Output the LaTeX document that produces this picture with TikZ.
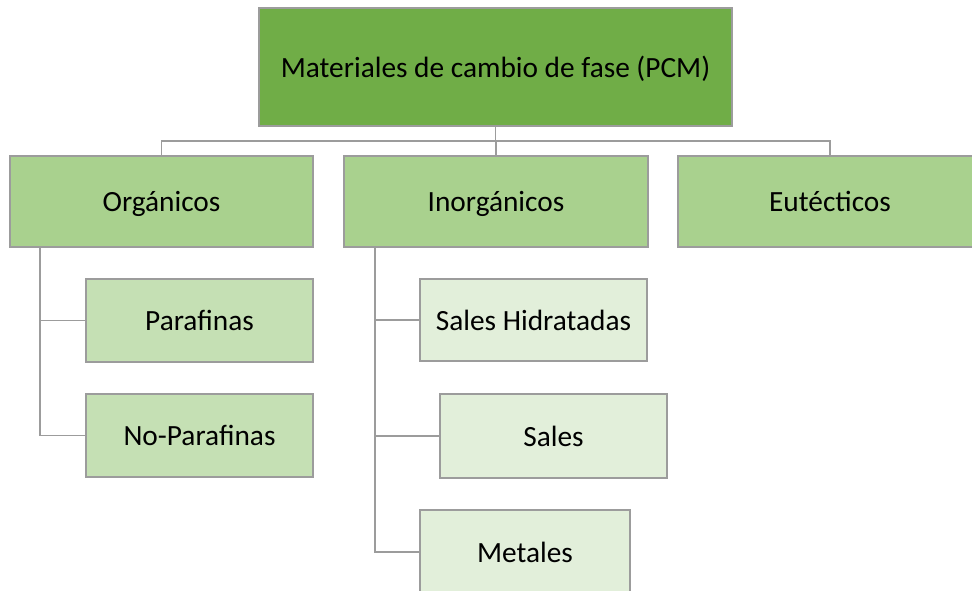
\documentclass[tikz,border=0pt]{standalone}
\usepackage{fontspec}
\setmainfont{Carlito}
\definecolor{gborder}{HTML}{9C9C9C}
\definecolor{lvA}{HTML}{70AD47}
\definecolor{lvB}{HTML}{A9D18E}
\definecolor{lvC}{HTML}{C5E0B4}
\definecolor{lvD}{HTML}{E2EFDA}
\begin{document}
\begin{tikzpicture}[x=0.75pt,y=-0.75pt,
  box/.style={draw=gborder,line width=1.35pt,inner sep=0pt,font=\fontsize{22}{26}\selectfont,text=black,text height=15pt,text depth=0pt},
  conn/.style={draw=gborder,line width=1.35pt}]
\useasboundingbox (0,0) rectangle (972,590);
\clip (0,0) rectangle (972,590);
\node[box,fill=lvA,minimum width=0.75*473pt,minimum height=0.75*118pt] (top) at (495.5,67) {Materiales de cambio de fase (PCM)};
\node[box,fill=lvB,minimum width=0.75*303pt,minimum height=0.75*91pt] (org) at (161.5,201.5) {Orgánicos};
\node[box,fill=lvB,minimum width=0.75*304pt,minimum height=0.75*91pt] (inorg) at (496,201.5) {Inorgánicos};
\node[box,fill=lvB,minimum width=0.75*304pt,minimum height=0.75*91pt] (eut) at (830,201.5) {Eutécticos};
\node[box,fill=lvC,minimum width=0.75*227pt,minimum height=0.75*83pt] (paraf) at (199.5,320.5) {Parafinas};
\node[box,fill=lvC,minimum width=0.75*227pt,minimum height=0.75*83pt] (noparaf) at (199.5,435.5) {No-Parafinas};
\node[box,fill=lvD,minimum width=0.75*227pt,minimum height=0.75*82pt] (salesh) at (533.5,320) {Sales Hidratadas};
\node[box,fill=lvD,minimum width=0.75*227pt,minimum height=0.75*84pt] (sales) at (553.5,436) {Sales};
\node[box,fill=lvD,minimum width=0.75*210pt,minimum height=0.75*84pt] (metales) at (525,552) {Metales};
\coordinate (hy) at (0,141);
\coordinate (ol) at (40,247);
\coordinate (il) at (375,247);
\draw[conn] (top.south) -- (top.south |- hy) -| (org.north);
\draw[conn] (top.south |- hy) -| (inorg.north);
\draw[conn] (top.south |- hy) -| (eut.north);
\draw[conn] (ol) |- (paraf.west);
\draw[conn] (ol) |- (noparaf.west);
\draw[conn] (il) |- (salesh.west);
\draw[conn] (il) |- (sales.west);
\draw[conn] (il) |- (metales.west);
\end{tikzpicture}
\end{document}
